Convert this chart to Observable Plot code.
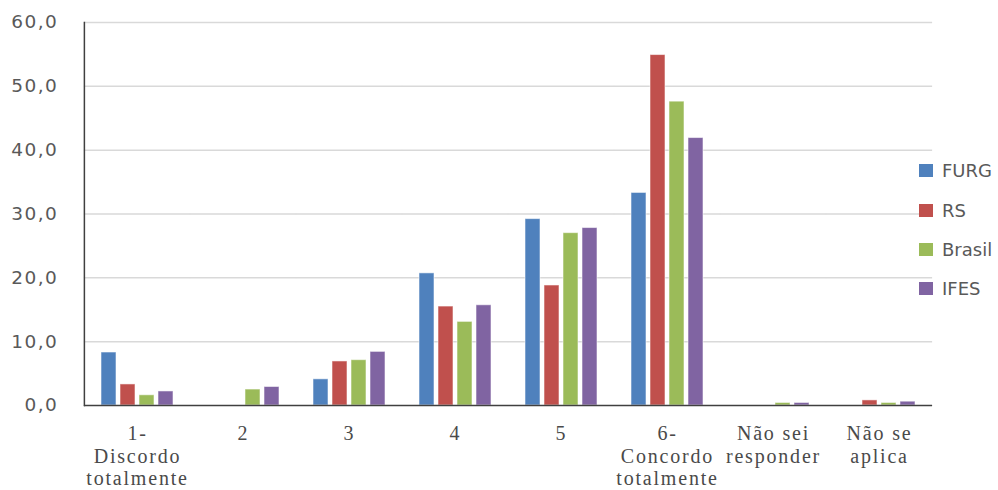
<!DOCTYPE html>
<html>
<head>
<meta charset="utf-8">
<script src="https://cdn.jsdelivr.net/npm/d3@7"></script>
<script src="https://cdn.jsdelivr.net/npm/@observablehq/plot@0.6"></script>
<style>
  body { margin: 0; background: #fff; }
  #wrap { position: relative; width: 998px; height: 490px; overflow: hidden; }
  #legend { position: absolute; left: 919px; top: 0; font-family: "DejaVu Sans", sans-serif; font-size: 18px; color: #595959; }
  .item { position: absolute; left: 0; height: 22px; display: flex; align-items: center; white-space: nowrap; }
  .sw { width: 14px; height: 13px; margin-right: 9px; flex: none; }
  g[aria-label="y-axis tick label"] text { letter-spacing: 1.5px; }
  g[aria-label="fx-axis tick label"] text { letter-spacing: 1.8px; }
</style>
</head>
<body>
<div id="wrap"><div id="legend"></div></div>
<script>
const categories = [
  "1-\nDiscordo\ntotalmente", "2", "3", "4", "5",
  "6-\nConcordo\ntotalmente", "Não sei\nresponder", "Não se\naplica"
];
const seriesNames = ["FURG", "RS", "Brasil", "IFES"];
const FURG   = [8.3, 0.0, 4.1, 20.7, 29.2, 33.3, 0.0, 0.0];
const RS     = [3.3, 0.0, 6.9, 15.5, 18.8, 54.9, 0.0, 0.8];
const Brasil = [1.6, 2.5, 7.1, 13.1, 27.0, 47.6, 0.4, 0.4];
const IFES   = [2.2, 2.9, 8.4, 15.7, 27.8, 41.9, 0.4, 0.6];
const colors = ["#4F81BD", "#C0504D", "#9BBB59", "#8064A2"];
const yTicks = [0, 10, 20, 30, 40, 50, 60];

const seriesValues = [FURG, RS, Brasil, IFES];
const data = [];
categories.forEach((c, i) => seriesNames.forEach((s, j) => data.push({cat: c, series: s, value: seriesValues[j][i]})));

const fmt = d => d.toFixed(1).replace(".", ",");

const W = 998, ML = 81, MR = 63;
const padInner = 0.3, padOuter = 0.15;
// half of the gap between facets, so facet-level rules join into continuous lines
const step = (W - ML - MR) / (categories.length - padInner + 2 * padOuter);
const ext = -(step * padInner / 2 + 0.1);

const chart = Plot.plot({
  width: W,
  height: 490,
  marginLeft: ML,
  marginRight: MR,
  marginTop: 22,
  marginBottom: 85,
  style: {background: "#fff", overflow: "visible"},
  fx: {domain: categories, paddingInner: padInner, paddingOuter: padOuter, label: null},
  x: {domain: seriesNames, paddingInner: 0.2, paddingOuter: 0, axis: null},
  y: {domain: [0, 60], label: null},
  color: {domain: seriesNames, range: colors},
  marks: [
    Plot.ruleY(yTicks.filter(d => d > 0), {stroke: "#d9d9d9", strokeWidth: 1.5, insetLeft: ext, insetRight: ext}),
    Plot.barY(data, {fx: "cat", x: "series", y: "value", fill: "series", stroke: "#fff", strokeOpacity: 0.55, strokeWidth: 1}),
    Plot.ruleY([0], {stroke: "#404040", strokeWidth: 1.5, insetLeft: ext, insetRight: ext}),
    Plot.frame({anchor: "left", facetAnchor: "left", stroke: "#404040", strokeWidth: 1.5, dx: ext}),
    Plot.axisY({ticks: yTicks, tickFormat: fmt, tickSize: 0, tickPadding: 26, label: null, dx: ext,
      fontSize: 18.5, fontFamily: "DejaVu Sans", color: "#595959"}),
    Plot.axisFx({anchor: "bottom", tickSize: 0, tickPadding: 19, label: null, lineHeight: 1.12,
      fontSize: 20, fontFamily: "Liberation Serif", color: "#4a4a4a"})
  ]
});
document.getElementById("wrap").prepend(chart);

const legend = document.getElementById("legend");
const centers = [170.5, 210.3, 249.7, 288.3];
seriesNames.forEach((s, i) => {
  const it = document.createElement("div");
  it.className = "item";
  it.style.top = (centers[i] - 11) + "px";
  const sw = document.createElement("span");
  sw.className = "sw";
  sw.style.background = colors[i];
  const tx = document.createElement("span");
  tx.textContent = s;
  it.append(sw, tx);
  legend.append(it);
});
</script>
</body>
</html>
